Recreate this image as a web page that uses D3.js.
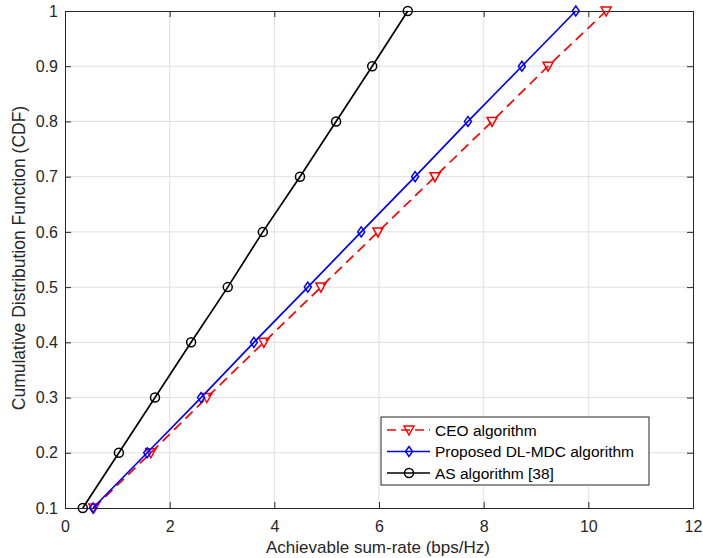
<!DOCTYPE html>
<html>
<head>
<meta charset="utf-8">
<script src="https://cdn.jsdelivr.net/npm/d3@7"></script>
<style>
  html, body { margin: 0; padding: 0; background: #fff; }
  svg { display: block; font-family: "Liberation Sans", Arial, Helvetica, sans-serif; }
</style>
</head>
<body>
<svg id="chart" width="703" height="558"></svg>
<script>
// CDF levels shared by all three curves
const cdfLevels = [0.1, 0.2, 0.3, 0.4, 0.5, 0.6, 0.7, 0.8, 0.9, 1.0];

// Achievable sum-rate (bps/Hz) at each CDF level
const ceoRates = [0.55, 1.64, 2.71, 3.80, 4.89, 5.98, 7.07, 8.16, 9.23, 10.34];
const dlmdcRates = [0.535, 1.57, 2.60, 3.61, 4.64, 5.66, 6.69, 7.70, 8.73, 9.76];
const asRates = [0.34, 1.03, 1.72, 2.41, 3.11, 3.78, 4.49, 5.18, 5.87, 6.55];

const xTicks = [0, 2, 4, 6, 8, 10, 12];
const yTicks = [0.1, 0.2, 0.3, 0.4, 0.5, 0.6, 0.7, 0.8, 0.9, 1];

const seriesNames = ["CEO algorithm", "Proposed DL-MDC algorithm", "AS algorithm [38]"];

(function () {
  const series = [
    { name: seriesNames[0], x: ceoRates, color: "#ff0000", dash: "10,6", marker: "tri" },
    { name: seriesNames[1], x: dlmdcRates, color: "#0000ff", dash: null, marker: "diamond" },
    { name: seriesNames[2], x: asRates, color: "#000000", dash: null, marker: "circle" }
  ];

  const svg = d3.select("#chart");
  const plotLeft = 65, plotRight = 693, plotTop = 11, plotBottom = 508;

  const x = d3.scaleLinear().domain([0, 12]).range([plotLeft, plotRight]);
  const y = d3.scaleLinear().domain([0.1, 1]).range([plotBottom, plotTop]);

  const axisColor = "#262626";
  const fontFam = "'Liberation Sans', Arial, sans-serif";

  // grid
  const grid = svg.append("g");
  grid.selectAll("line.gx").data(xTicks.slice(1, -1)).join("line")
    .attr("x1", d => x(d)).attr("x2", d => x(d))
    .attr("y1", plotTop).attr("y2", plotBottom)
    .attr("stroke", "#dfdfdf").attr("stroke-width", 1);
  grid.selectAll("line.gy").data(yTicks.slice(1, -1)).join("line")
    .attr("y1", d => y(d)).attr("y2", d => y(d))
    .attr("x1", plotLeft).attr("x2", plotRight)
    .attr("stroke", "#dfdfdf").attr("stroke-width", 1);

  // axes with inward ticks
  const tickLen = 6;
  const xAxis = d3.axisBottom(x).tickValues(xTicks).tickSize(-tickLen).tickPadding(13).tickFormat(d3.format("d"));
  const yAxis = d3.axisLeft(y).tickValues(yTicks).tickSize(-tickLen).tickPadding(7).tickFormat(d => d === 1 ? "1" : d3.format(".1f")(d));
  const xTop = d3.axisTop(x).tickValues(xTicks).tickSize(-tickLen).tickFormat("");
  const yRight = d3.axisRight(y).tickValues(yTicks).tickSize(-tickLen).tickFormat("");

  function styleAxis(g) {
    g.select(".domain").attr("stroke", axisColor).attr("stroke-width", 1);
    g.selectAll(".tick line").attr("stroke", axisColor);
    g.selectAll(".tick text").attr("fill", axisColor).attr("font-size", 16)
      .attr("font-family", fontFam);
  }

  svg.append("g").attr("transform", `translate(0,${plotBottom})`).call(xAxis).call(styleAxis);
  svg.append("g").attr("transform", `translate(${plotLeft},0)`).call(yAxis).call(styleAxis);
  svg.append("g").attr("transform", `translate(0,${plotTop})`).call(xTop).call(styleAxis);
  svg.append("g").attr("transform", `translate(${plotRight},0)`).call(yRight).call(styleAxis);

  // axis titles
  svg.append("text")
    .attr("x", 378).attr("y", 553)
    .attr("text-anchor", "middle").attr("font-size", 17).attr("fill", axisColor)
    .text("Achievable sum-rate (bps/Hz)");
  svg.append("text")
    .attr("transform", `translate(25,258) rotate(-90)`)
    .attr("text-anchor", "middle").attr("font-size", 17.5).attr("fill", axisColor)
    .text("Cumulative Distribution Function (CDF)");

  // marker drawing
  function drawMarker(g, type, cx, cy, color) {
    if (type === "circle") {
      g.append("circle").attr("cx", cx).attr("cy", cy).attr("r", 4.5)
        .attr("fill", "none").attr("stroke", color).attr("stroke-width", 1.5);
    } else if (type === "diamond") {
      g.append("path")
        .attr("d", `M${cx},${cy - 5}L${cx + 3.5},${cy}L${cx},${cy + 5}L${cx - 3.5},${cy}Z`)
        .attr("fill", "none").attr("stroke", color).attr("stroke-width", 1.5);
    } else {
      g.append("path")
        .attr("d", `M${cx - 5},${cy - 4}L${cx + 5},${cy - 4}L${cx},${cy + 5}Z`)
        .attr("fill", "none").attr("stroke", color).attr("stroke-width", 1.5);
    }
  }

  const line = d3.line().x(d => x(d[0])).y(d => y(d[1]));

  series.forEach(s => {
    const pts = s.x.map((v, i) => [v, cdfLevels[i]]);
    const g = svg.append("g");
    g.append("path").datum(pts).attr("d", line)
      .attr("fill", "none").attr("stroke", s.color).attr("stroke-width", 1.7)
      .attr("stroke-dasharray", s.dash);
    pts.forEach(p => drawMarker(g, s.marker, x(p[0]), y(p[1]), s.color));
  });

  // legend
  const lg = svg.append("g").attr("transform", "translate(381,417)");
  lg.append("rect").attr("width", 268).attr("height", 68)
    .attr("fill", "#fff").attr("stroke", axisColor).attr("stroke-width", 1);
  series.forEach((s, i) => {
    const cy = 13 + i * 21.5;
    lg.append("line").attr("x1", 6).attr("x2", 49).attr("y1", cy).attr("y2", cy)
      .attr("stroke", s.color).attr("stroke-width", 1.7).attr("stroke-dasharray", s.dash ? "9,5" : null);
    drawMarker(lg, s.marker, 28, cy, s.color);
    lg.append("text").attr("x", 54).attr("y", cy + 5.5)
      .attr("font-size", 15.5).attr("fill", "#000").text(s.name);
  });
})();
</script>
</body>
</html>
